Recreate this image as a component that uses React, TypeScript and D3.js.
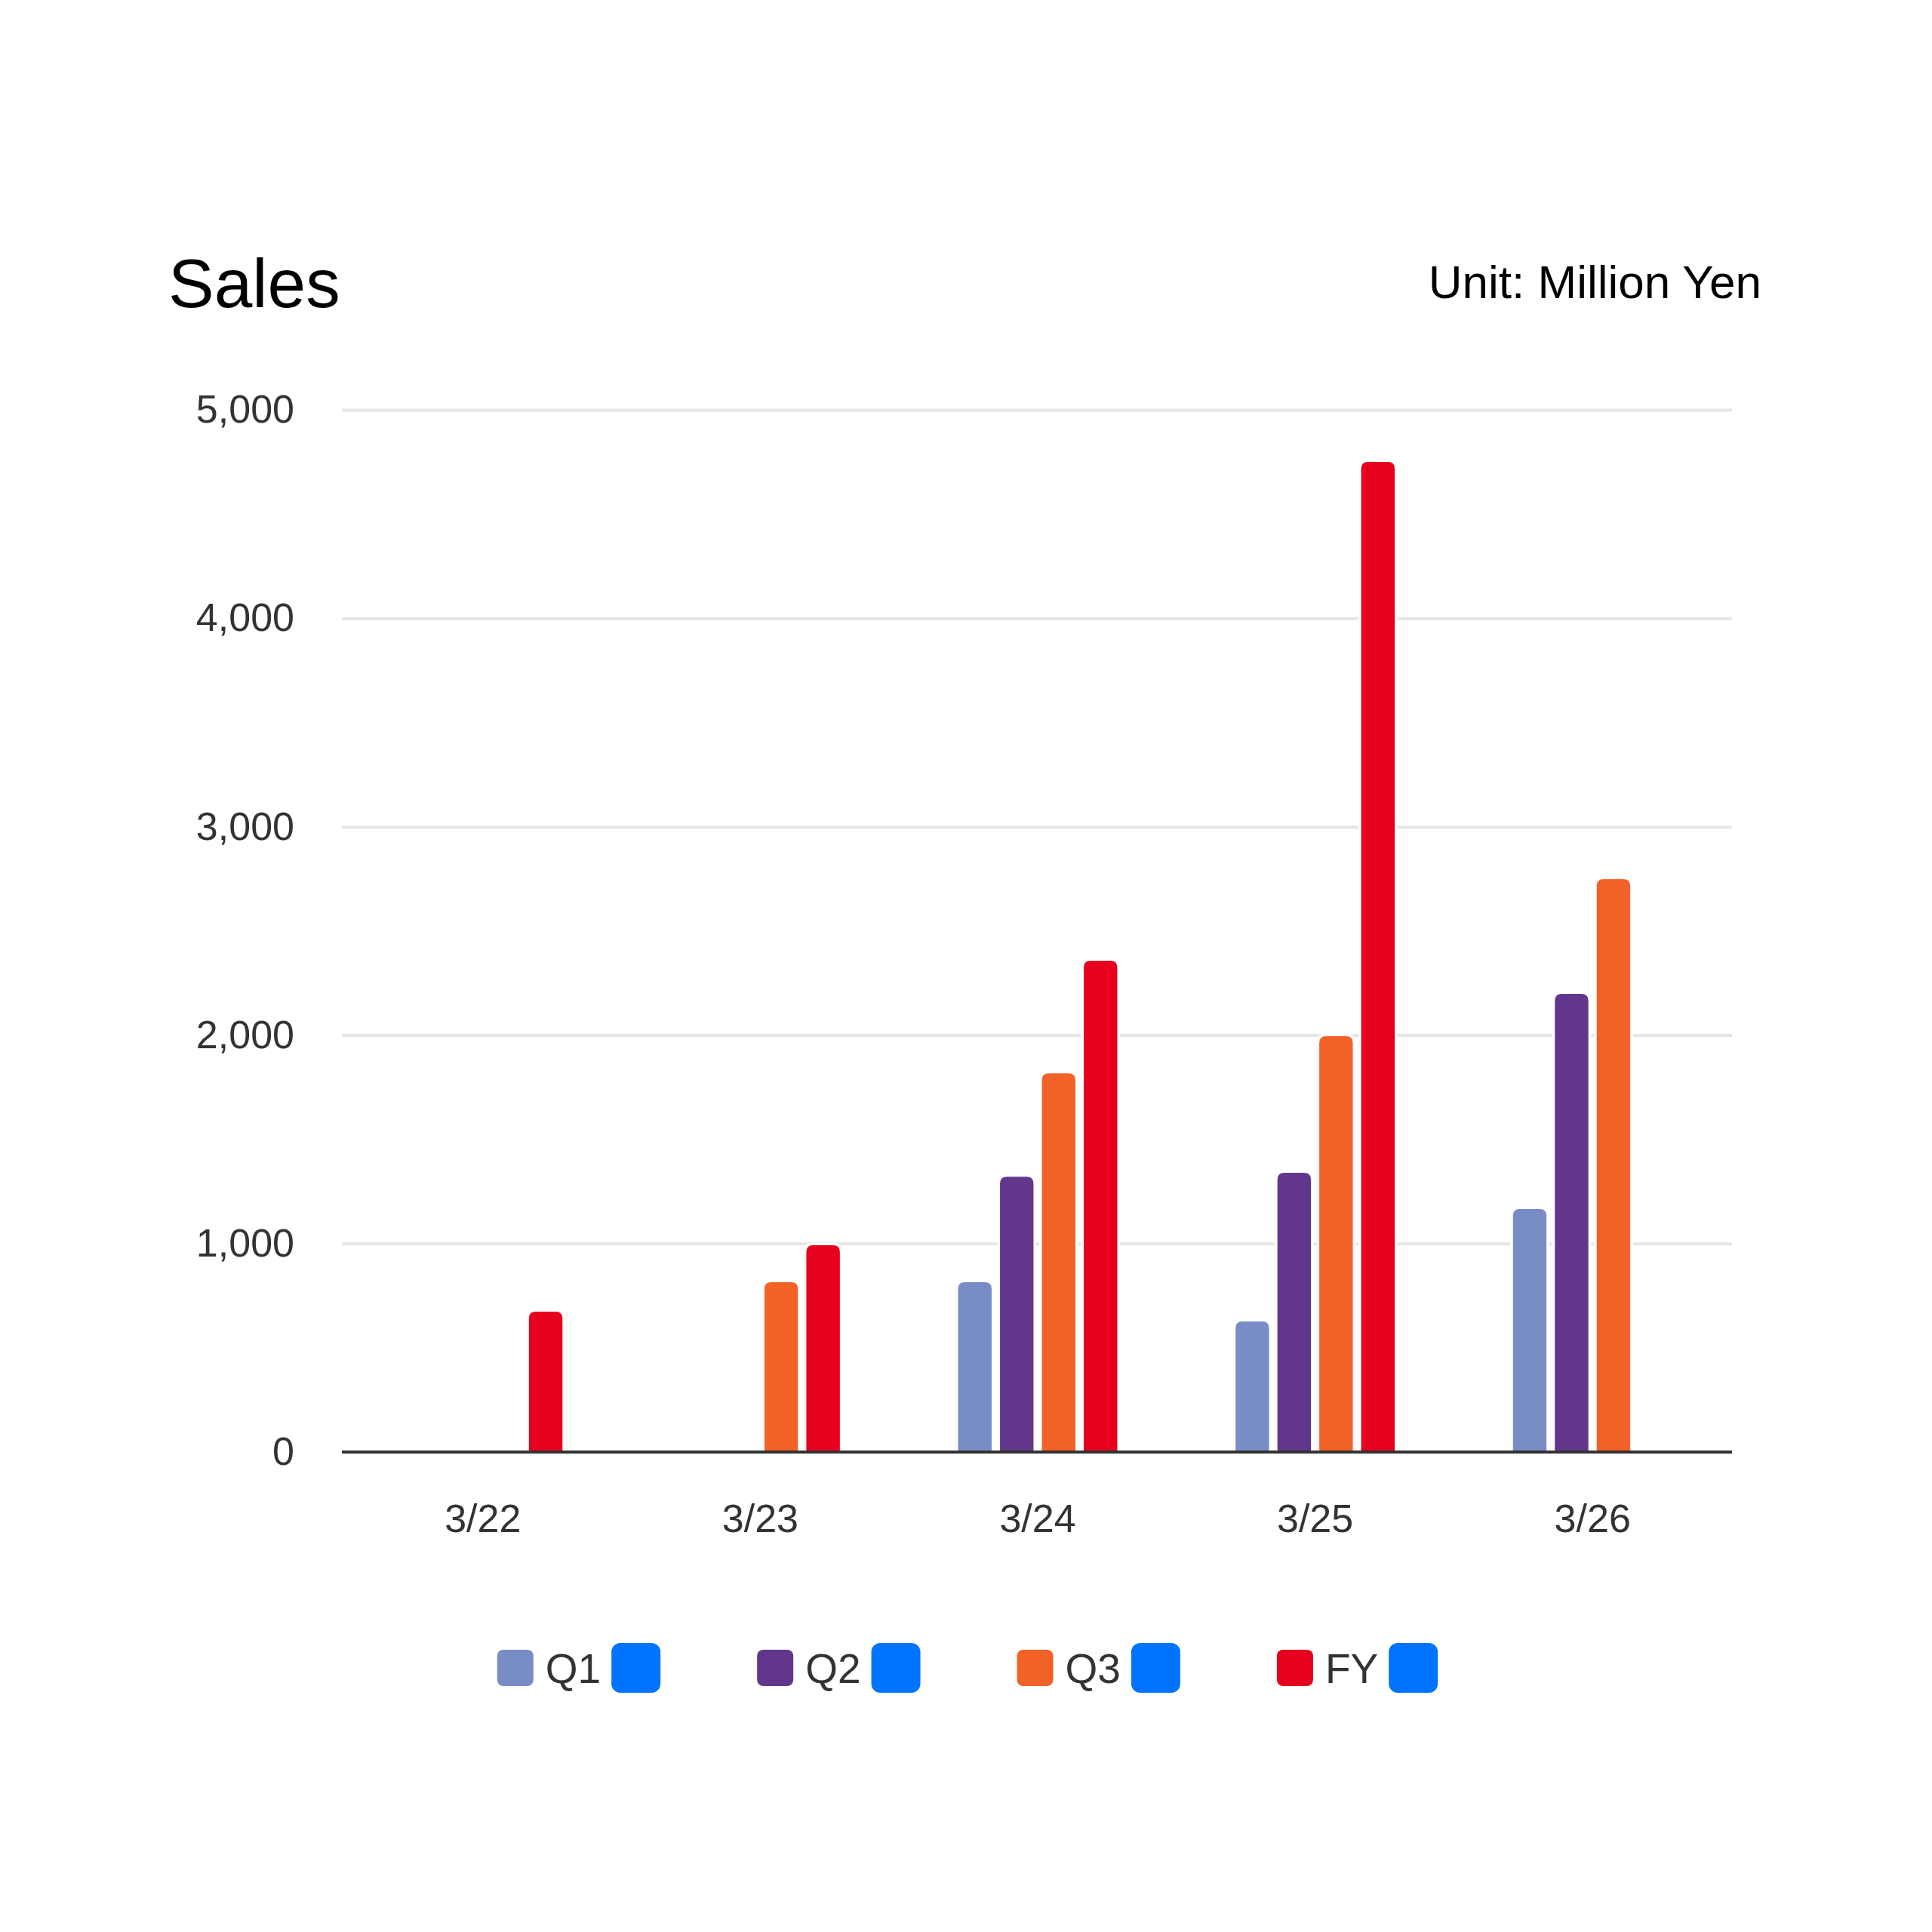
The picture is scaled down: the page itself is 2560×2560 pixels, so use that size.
import { useEffect, useRef } from 'react'
import { axisBottom, axisLeft, format, scaleBand, scaleLinear, select } from 'd3'

const categories = ['3/22', '3/23', '3/24', '3/25', '3/26']
const seriesNames = ['Q1', 'Q2', 'Q3', 'FY']
const q1Values = [null, null, 815, 626, 1166]
const q2Values = [null, null, 1321, 1340, 2198]
const q3Values = [null, 815, 1817, 1995, 2748]
const fyValues = [673, 992, 2357, 4750, null]
const yTicks = [0, 1000, 2000, 3000, 4000, 5000]
const colors = ['#788dc5', '#62378b', '#f26226', '#e6001e']

const dims = {
  width: 2560,
  height: 2560,
  left: 453,
  right: 2295,
  top: 543,
  bottom: 1924,
}

const font = '"Liberation Sans", Arial, Helvetica, sans-serif'

// bar with rounded top corners only
const barPath = (x: number, y: number, w: number, h: number, r: number) => {
  r = Math.min(r, w / 2, h)
  return `M${x},${y + h}V${y + r}Q${x},${y} ${x + r},${y}H${x + w - r}Q${x + w},${y} ${x + w},${y + r}V${y + h}Z`
}

const App = () => {
  const ref = useRef<SVGSVGElement | null>(null)

  useEffect(() => {
    const svg = select(ref.current)
    svg.selectAll('*').remove()

    const allSeries = [q1Values, q2Values, q3Values, fyValues]
    const rows = categories.map((c, i) => ({
      cat: c,
      vals: seriesNames.map((s, j) => ({ key: s, value: allSeries[j][i], color: colors[j] })),
    }))

    const x0 = scaleBand().domain(categories).range([dims.left + 3, dims.right - 1])
    const groupW = 222
    const x1 = scaleBand()
      .domain(seriesNames)
      .range([(x0.bandwidth() - groupW) / 2, (x0.bandwidth() + groupW) / 2])
      .paddingInner(0.2)
      .paddingOuter(0.1)
    const y = scaleLinear().domain([0, 5000]).range([dims.bottom, dims.top])

    // title + unit
    svg.append('text')
      .attr('x', 223).attr('y', 407)
      .attr('font-family', font).attr('font-size', 91).attr('fill', '#000')
      .text('Sales')
    svg.append('text')
      .attr('x', 2334).attr('y', 395)
      .attr('text-anchor', 'end')
      .attr('font-family', font).attr('font-size', 62).attr('fill', '#000')
      .text('Unit: Million Yen')

    // y grid + labels
    const yAxisG = svg.append('g')
      .attr('transform', `translate(${dims.left},0)`)
      .call(
        axisLeft(y)
          .tickValues(yTicks)
          .tickSize(-(dims.right - dims.left))
          .tickPadding(63)
          .tickFormat(d => format(',')(d as number))
      )
    yAxisG.select('.domain').remove()
    yAxisG.selectAll('line').attr('stroke', '#e6e6e6').attr('stroke-width', 4)
    yAxisG.selectAll('text')
      .attr('font-family', font).attr('font-size', 52).attr('fill', '#333')

    // bars
    svg.append('g')
      .selectAll('g')
      .data(rows)
      .enter()
      .append('g')
      .attr('transform', d => `translate(${x0(d.cat)},0)`)
      .selectAll('path')
      .data(d => d.vals.filter(v => v.value != null))
      .enter()
      .append('path')
      .attr('d', d => {
        const top = y(d.value as number)
        return barPath(x1(d.key)!, top, x1.bandwidth(), dims.bottom - top, 9)
      })
      .attr('fill', d => d.color)
      .attr('stroke', '#fff')
      .attr('stroke-width', 7)
      .attr('paint-order', 'stroke')

    // zero line
    svg.append('line')
      .attr('x1', dims.left).attr('x2', dims.right)
      .attr('y1', y(0)).attr('y2', y(0))
      .attr('stroke', '#333').attr('stroke-width', 4)

    // x labels
    const xAxisG = svg.append('g')
      .attr('transform', `translate(0,${dims.bottom})`)
      .call(axisBottom(x0).tickSize(0).tickPadding(69))
    xAxisG.select('.domain').remove()
    xAxisG.selectAll('text')
      .attr('font-family', font).attr('font-size', 52).attr('fill', '#333')

    // legend
    const legend = svg.append('g')
    let cx = 0
    seriesNames.forEach((s, i) => {
      const item = legend.append('g').attr('transform', `translate(${cx},0)`)
      item.append('rect')
        .attr('x', 0).attr('y', -24).attr('width', 48).attr('height', 48)
        .attr('rx', 8).attr('fill', colors[i])
      const t = item.append('text')
        .attr('x', 64).attr('y', 20)
        .attr('font-family', font).attr('font-size', 55).attr('fill', '#333')
        .text(s)
      const tw = (t.node() as SVGTextElement).getComputedTextLength()
      item.append('rect')
        .attr('x', 64 + tw + 14).attr('y', -33).attr('width', 65).attr('height', 66)
        .attr('rx', 12).attr('fill', '#0074ff')
      cx += 64 + tw + 14 + 65 + 128
    })
    const legendW = cx - 128
    legend.attr('transform', `translate(${1282 - legendW / 2},2210)`)
  }, [])

  return (
    <svg
      ref={ref}
      width={dims.width}
      height={dims.height}
      style={{ position: 'absolute', left: 0, top: 0, background: '#fff' }}
    />
  )
}

export default App
